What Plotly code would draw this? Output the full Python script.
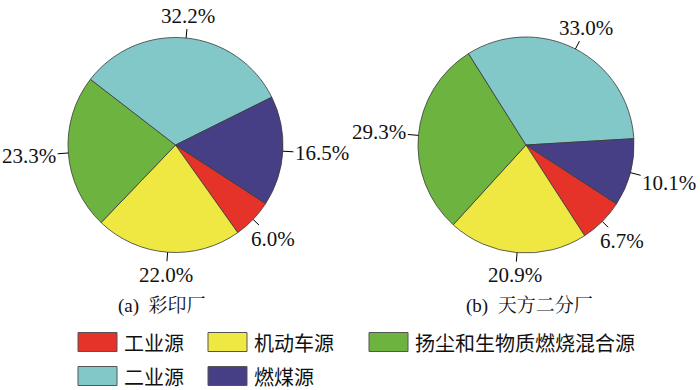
import math
import plotly.graph_objects as go

# ---- data ----
categories = ["工业源", "机动车源", "扬尘和生物质燃烧混合源", "二业源", "燃煤源"]
values_a = [6.0, 22.0, 23.3, 32.2, 16.5]
values_b = [6.7, 20.9, 29.3, 33.0, 10.1]
titles = ["(a)  彩印厂", "(b)  天方二分厂"]
colors = ["#E5332A", "#F0E842", "#6DB33F", "#82C8C8", "#463F85"]

# ---- layout constants (pixels) ----
W, H = 700, 390
ROT = 123
pies = [
    dict(vals=values_a, cx=175.5, cy=145.0, r=107.5, title=titles[0], tx=162, ty=306),
    dict(vals=values_b, cx=526.0, cy=145.0, r=108.0, title=titles[1], tx=529, ty=306),
]
LABEL_FONT = "Liberation Serif, Times New Roman, serif"
CJK_FONT = "Noto Sans CJK SC, sans-serif"
FS = 21
GAP = 11


def px(x):
    return x / W


def py(y):
    return 1 - y / H


def text_width(s, fs):
    w = 0
    for ch in s:
        if ch.isdigit():
            w += 0.5
        elif ch == ".":
            w += 0.25
        elif ch == "%":
            w += 0.833
        else:
            w += 0.5
    return w * fs


fig = go.Figure()
annotations = []
shapes = []

for p in pies:
    cx, cy, r = p["cx"], p["cy"], p["r"]
    fig.add_trace(go.Pie(
        labels=categories,
        values=p["vals"],
        marker=dict(colors=colors, line=dict(color="#3a3a3a", width=0.8)),
        sort=False,
        direction="clockwise",
        rotation=ROT,
        textinfo="none",
        hoverinfo="label+value",
        showlegend=False,
        domain=dict(x=[px(cx - r), px(cx + r)], y=[py(cy + r), py(cy - r)]),
    ))
    total = sum(p["vals"])
    cum = 0
    for v in p["vals"]:
        mid = math.radians(ROT + 360 * (cum + v / 2) / total)
        cum += v
        ux, uy = math.sin(mid), -math.cos(mid)
        ex, ey = cx + r * ux, cy + r * uy
        label = f"{v:.1f}%"
        a = text_width(label, FS) / 2 + 1
        b = FS * 0.55
        d_box = min(a / max(abs(ux), 1e-6), b / max(abs(uy), 1e-6))
        dist = GAP + d_box
        annotations.append(dict(
            x=px(ex), y=py(ey), xref="paper", yref="paper",
            text=label, showarrow=True, arrowhead=0, arrowwidth=1,
            arrowcolor="#000000", standoff=0,
            ax=dist * ux, ay=dist * uy,
            font=dict(family=LABEL_FONT, size=FS, color="#111111"),
        ))
    annotations.append(dict(
        x=px(p["tx"]), y=py(p["ty"]), xref="paper", yref="paper",
        text=p["title"], showarrow=False, xanchor="center", yanchor="middle",
        font=dict(family="Liberation Serif, Noto Serif CJK SC, Noto Sans CJK SC, serif", size=19, color="#111111"),
    ))

# ---- legend (manual) ----
legend_pos = [(78, 342), (208, 342), (369, 342), (78, 376), (208, 376)]
SW, SH = 39, 19
for (lx, ly), cat, col in zip(legend_pos, categories, colors):
    shapes.append(dict(
        type="rect", xref="paper", yref="paper",
        x0=px(lx), x1=px(lx + SW), y0=py(ly + SH / 2), y1=py(ly - SH / 2),
        fillcolor=col, line=dict(color="#555555", width=1),
    ))
    annotations.append(dict(
        x=px(lx + SW + 5), y=py(ly), xref="paper", yref="paper",
        text=cat, showarrow=False, xanchor="left", yanchor="middle",
        font=dict(family=CJK_FONT, size=20, color="#111111"),
    ))

fig.update_layout(
    width=W, height=H,
    margin=dict(l=0, r=0, t=0, b=0),
    paper_bgcolor="white", plot_bgcolor="white",
    annotations=annotations, shapes=shapes,
    showlegend=False,
)

fig.write_html(
    "out.html",
    config={"displayModeBar": False},
    post_script="document.body.style.margin='0';document.body.style.overflow='hidden';",
)
